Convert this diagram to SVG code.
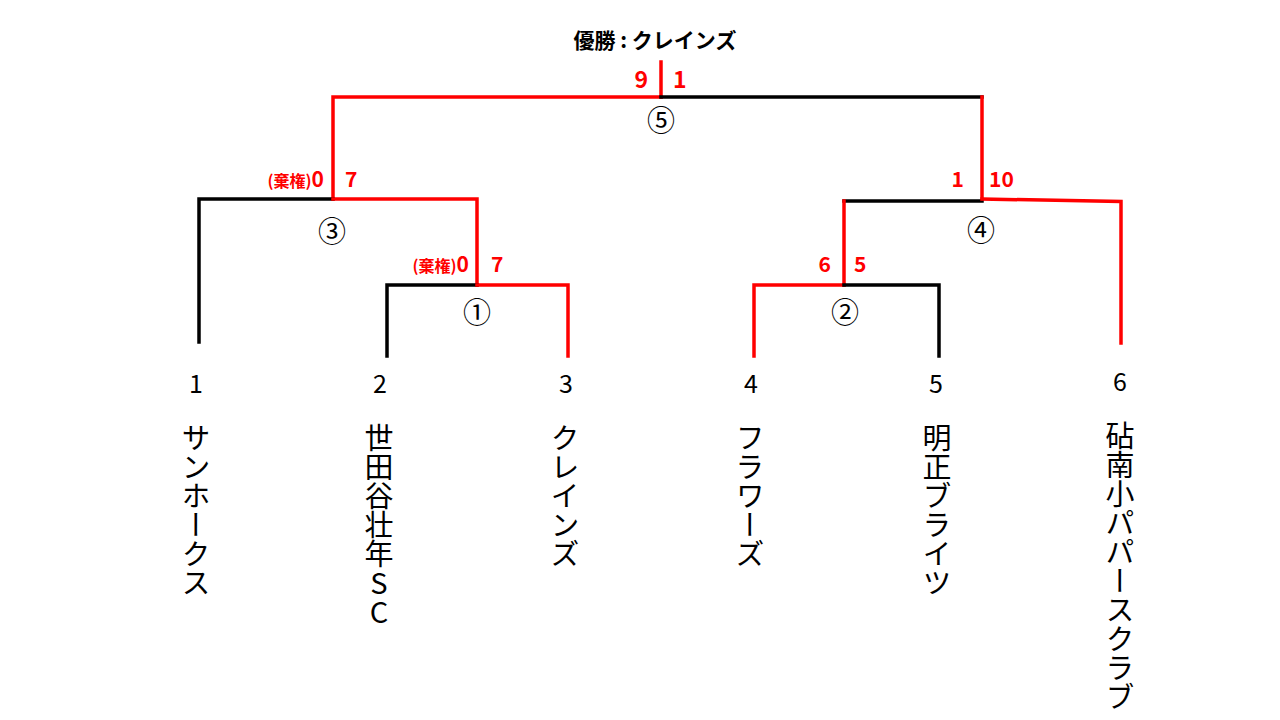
<svg xmlns="http://www.w3.org/2000/svg" width="1280" height="720" viewBox="0 0 1280 720">
<style>
.k{fill:none;stroke:#000;stroke-width:3.5;stroke-linecap:square}
.r{fill:none;stroke:#ff0000;stroke-width:3.5;stroke-linecap:square}
.jp{font-family:"Noto Sans CJK JP","Noto Sans",sans-serif}
.sc{font-family:"Noto Sans CJK JP","Noto Sans",sans-serif;font-weight:bold;fill:#ff0000;font-size:21px}
.sm{font-size:16px}
.cn{font-family:"Noto Sans CJK JP",sans-serif;font-size:28px;text-anchor:middle;fill:#000}
.seed{font-family:"Noto Sans CJK JP","Noto Sans",sans-serif;font-size:25px;text-anchor:middle;fill:#000}
.name{font-family:"Noto Sans CJK JP",sans-serif;font-size:29px;writing-mode:vertical-rl;text-orientation:upright;fill:#000}
</style>
<rect width="1280" height="720" fill="#fff"/>
<g id="connectors">
<line class="r" x1="661" y1="62" x2="661" y2="97"/>
<polyline class="r" points="661,97 333,97 333,199"/>
<line class="k" x1="661" y1="97" x2="982" y2="97"/>
<line class="r" x1="982" y1="97" x2="982" y2="199"/>
<polyline class="k" points="333,199 199,199 199,342"/>
<polyline class="r" points="333,199 477,199 477,285"/>
<polyline class="k" points="477,285 387,285 387,356"/>
<polyline class="r" points="477,285 568,285 568,356"/>
<polyline class="k" points="982,201 844,201"/>
<polyline class="r" points="844,201 844,285"/>
<polyline class="r" points="982,199 1121,201.5 1121,343"/>
<polyline class="r" points="844,285 754,285 754,356"/>
<polyline class="k" points="844,285 939,285 939,356"/>
</g>
<g id="title">
<text class="jp" x="655" y="48" font-size="21" font-weight="bold" text-anchor="middle">優勝 : クレインズ</text>
</g>
<g id="match5">
<text class="sc" x="648" y="88" text-anchor="end" style="font-size:23px">9</text>
<text class="sc" x="673" y="88" style="font-size:23px">1</text>
<text class="cn" x="661" y="131">⑤</text>
</g>
<g id="match3">
<text class="sc" x="324" y="187" text-anchor="end"><tspan class="sm">(棄権)</tspan>0</text>
<text class="sc" x="345" y="187">7</text>
<text class="cn" x="332" y="242">③</text>
</g>
<g id="match1">
<text class="sc" x="469" y="272" text-anchor="end"><tspan class="sm">(棄権)</tspan>0</text>
<text class="sc" x="491" y="272">7</text>
<text class="cn" x="477" y="323">①</text>
</g>
<g id="match4">
<text class="sc" x="964" y="187" text-anchor="end">1</text>
<text class="sc" x="989" y="187">10</text>
<text class="cn" x="981" y="241">④</text>
</g>
<g id="match2">
<text class="sc" x="831" y="272" text-anchor="end">6</text>
<text class="sc" x="854" y="272">5</text>
<text class="cn" x="845" y="323">②</text>
</g>
<g id="team1"><text class="seed" x="196" y="393">1</text><text class="name" x="196" y="423">サンホークス</text></g>
<g id="team2"><text class="seed" x="380" y="393">2</text><text class="name" x="379" y="423">世田谷壮年SC</text></g>
<g id="team3"><text class="seed" x="566" y="393">3</text><text class="name" x="565" y="423">クレインズ</text></g>
<g id="team4"><text class="seed" x="751" y="393">4</text><text class="name" x="750" y="423">フラワーズ</text></g>
<g id="team5"><text class="seed" x="936" y="393">5</text><text class="name" x="937" y="423">明正ブライツ</text></g>
<g id="team6"><text class="seed" x="1120" y="391">6</text><text class="name" x="1120" y="421">砧南小パパースクラブ</text></g>
</svg>
